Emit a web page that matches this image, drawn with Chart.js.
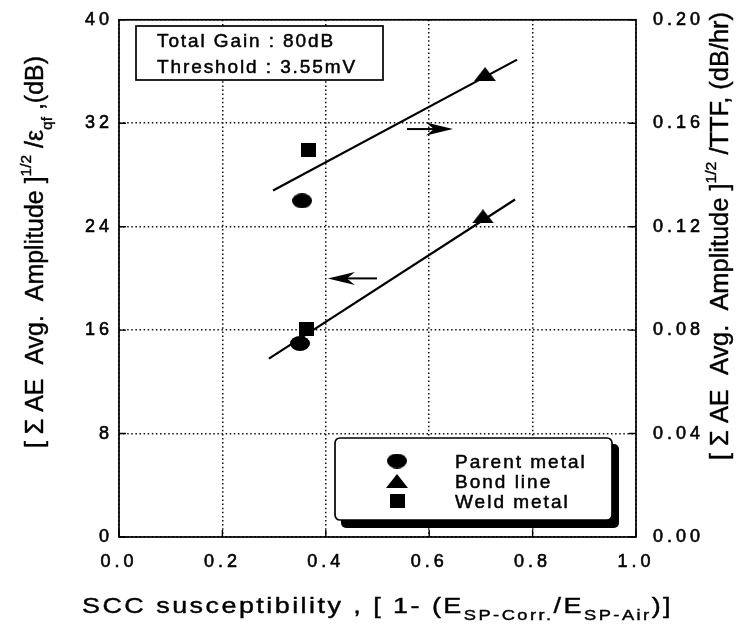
<!DOCTYPE html>
<html>
<head>
<meta charset="utf-8">
<script src="https://cdn.jsdelivr.net/npm/chart.js@4.4.1/dist/chart.umd.min.js"></script>
<style>
  html, body { margin: 0; padding: 0; background: #fff; }
  #wrap { width: 749px; height: 633px; }
</style>
</head>
<body>
<div id="wrap"><canvas id="chart" width="749" height="633"></canvas></div>
<script>
// --- values ---
const seriesNames = ['Parent metal', 'Bond line', 'Weld metal'];
const markerKinds = ['circle', 'triangle', 'square'];

// left axis, (dB)
const leftX = [0.350, 0.704, 0.362];
const leftY = [14.97, 24.8, 16.05];
// right axis, (dB/hr)
const rightX = [0.354, 0.708, 0.366];
const rightY = [0.130, 0.179, 0.1497];

// fitted lines
const leftFitX = [0.290, 0.766];
const leftFitY = [13.8, 26.1];
const rightFitX = [0.298, 0.770];
const rightFitY = [0.134, 0.1846];

// arrows pointing at the axis each line belongs to (tail -> tip, left axis units)
const arrowTailX = [0.557, 0.499];
const arrowTipX = [0.646, 0.404];
const arrowY = [31.55, 20.0];

const xTickLabels = ['0.0', '0.2', '0.4', '0.6', '0.8', '1.0'];
const leftTickLabels = ['0', '8', '16', '24', '32', '40'];
const rightTickLabels = ['0.00', '0.04', '0.08', '0.12', '0.16', '0.20'];

const infoLines = ['Total Gain : 80dB', 'Threshold : 3.55mV'];

const leftTitle = [{ t: '[ Σ AE  Avg.  Amplitude ]' }, { t: '1/2', s: 'sup' }, { t: ' /ε' }, { t: 'qf', s: 'sub' }, { t: ' ,(dB)' }];
const rightTitle = [{ t: '[ Σ AE  Avg.  Amplitude ]' }, { t: '1/2', s: 'sup' }, { t: ' /TTF, (dB/hr)' }];
const xTitle = [{ t: 'SCC susceptibility , [ 1- (E' }, { t: 'SP-Corr.', s: 'sub' }, { t: '/E' }, { t: 'SP-Air', s: 'sub' }, { t: ')]' }];

const FONT = '"Liberation Sans", Arial, Helvetica, sans-serif';

// --- marker images (the scanned marks are a bit squat) ---
function makeMarker(kind) {
    const c = document.createElement('canvas');
    const w = kind === 'triangle' ? 22 : (kind === 'circle' ? 20 : 15);
    const h = kind === 'circle' ? 15 : 14;
    c.width = w; c.height = h;
    const g = c.getContext('2d');
    g.fillStyle = '#000';
    g.beginPath();
    if (kind === 'circle') g.ellipse(w / 2, h / 2, w / 2, h / 2, 0, 0, Math.PI * 2);
    else if (kind === 'square') g.rect(0, 0, w, h);
    else { g.moveTo(w / 2, 0); g.lineTo(w, h); g.lineTo(0, h); g.closePath(); }
    g.fill();
    return c;
}
const markers = markerKinds.map(makeMarker);

function richWidth(ctx, parts, size, ls, ratio) {
    let w = 0;
    parts.forEach(p => {
        const fs = p.s ? size * ratio : size;
        ctx.font = fs + 'px ' + FONT;
        ctx.letterSpacing = ls + 'px';
        w += ctx.measureText(p.t).width;
    });
    return w;
}

// text with a thin stroke, the scan makes every glyph heavier
function inkText(ctx, s, x, y) {
    ctx.fillText(s, x, y);
    ctx.strokeText(s, x, y);
}

function drawRich(ctx, parts, x, y, size, ls, ratio) {
    parts.forEach(p => {
        const fs = p.s ? size * ratio : size;
        ctx.font = fs + 'px ' + FONT;
        ctx.letterSpacing = ls + 'px';
        let dy = 0;
        if (p.s === 'sup') dy = -size * 0.48;
        if (p.s === 'sub') dy = size * 0.34;
        inkText(ctx, p.t, x, y + dy);
        x += ctx.measureText(p.t).width;
    });
}

// rotated, squeezed to a target length
function drawVerticalTitle(ctx, parts, cx, cy, length, size) {
    ctx.save();
    ctx.translate(cx, cy);
    ctx.rotate(-Math.PI / 2);
    const w = richWidth(ctx, parts, size, 0, 0.62);
    ctx.scale(length / w, 1);
    ctx.textAlign = 'left';
    ctx.textBaseline = 'alphabetic';
    drawRich(ctx, parts, -w / 2, size * 0.36, size, 0, 0.62);
    ctx.restore();
}

function drawArrow(ctx, x1, y1, x2, y2) {
    const len = Math.hypot(x2 - x1, y2 - y1);
    const dx = (x2 - x1) / len, dy = (y2 - y1) / len;
    const nx = -dy, ny = dx;
    const headLen = 27, half = 6.5, notch = 19;
    ctx.beginPath();
    ctx.moveTo(x1, y1);
    ctx.lineTo(x2 - dx * notch, y2 - dy * notch);
    ctx.lineWidth = 2;
    ctx.stroke();
    ctx.beginPath();
    ctx.moveTo(x2, y2);
    ctx.lineTo(x2 - dx * headLen + nx * half, y2 - dy * headLen + ny * half);
    ctx.lineTo(x2 - dx * notch, y2 - dy * notch);
    ctx.lineTo(x2 - dx * headLen - nx * half, y2 - dy * headLen - ny * half);
    ctx.closePath();
    ctx.fill();
}

const spacingPlugin = {
    id: 'spacing',
    beforeDraw(chart) { chart.ctx.letterSpacing = '4px'; },
    beforeDatasetsDraw(chart) { chart.ctx.letterSpacing = '0px'; }
};

const decorPlugin = {
    id: 'decor',
    afterDatasetsDraw(chart) {
        const ctx = chart.ctx;
        const { left, right, top, bottom } = chart.chartArea;
        const xs = chart.scales.x, ys = chart.scales.y, y1s = chart.scales.y1;
        ctx.save();
        ctx.letterSpacing = '0px';
        ctx.strokeStyle = '#000';
        ctx.fillStyle = '#000';

        // frame
        ctx.lineWidth = 1.7;
        ctx.strokeRect(left, top, right - left, bottom - top);

        // inward tick marks
        ctx.lineWidth = 1.4;
        ctx.beginPath();
        ys.ticks.forEach(t => { const p = ys.getPixelForValue(t.value); ctx.moveTo(left, p); ctx.lineTo(left + 7, p); });
        y1s.ticks.forEach(t => { const p = y1s.getPixelForValue(t.value); ctx.moveTo(right, p); ctx.lineTo(right - 7, p); });
        xs.ticks.forEach(t => { const p = xs.getPixelForValue(t.value); ctx.moveTo(p, bottom); ctx.lineTo(p, bottom - 7); });
        ctx.stroke();

        // arrows
        ctx.lineCap = 'butt';
        arrowY.forEach((v, i) => {
            const py = ys.getPixelForValue(v);
            drawArrow(ctx, xs.getPixelForValue(arrowTailX[i]), py, xs.getPixelForValue(arrowTipX[i]), py);
        });

        // info box
        ctx.fillStyle = '#fff';
        ctx.fillRect(136, 26, 247, 54);
        ctx.lineWidth = 1.7;
        ctx.strokeRect(136, 26, 247, 54);
        ctx.fillStyle = '#000';
        ctx.lineWidth = 0.5;
        ctx.font = '19px ' + FONT;
        ctx.letterSpacing = '1.9px';
        ctx.textAlign = 'left';
        ctx.textBaseline = 'alphabetic';
        infoLines.forEach((s, i) => inkText(ctx, s, 157, 47 + i * 26));

        // legend box with heavy shadow
        ctx.letterSpacing = '0px';
        ctx.beginPath();
        ctx.roundRect(341, 444, 278, 84, 5);
        ctx.fill();
        ctx.fillStyle = '#fff';
        ctx.beginPath();
        ctx.roundRect(335, 438, 277, 82, 5);
        ctx.fill();
        ctx.lineWidth = 1.7;
        ctx.stroke();
        ctx.fillStyle = '#000';
        ctx.lineWidth = 0.5;
        ctx.font = '19px ' + FONT;
        ctx.letterSpacing = '2px';
        seriesNames.forEach((name, i) => {
            const yy = 461 + i * 20;
            const m = markers[i];
            ctx.drawImage(m, 397 - m.width / 2, yy - m.height / 2);
            inkText(ctx, name, 455, yy + 7);
        });

        // axis titles
        ctx.lineWidth = 0.4;
        drawVerticalTitle(ctx, leftTitle, 34, 252, 392, 25);
        drawVerticalTitle(ctx, rightTitle, 719, 236, 448, 25);

        ctx.save();
        const w = richWidth(ctx, xTitle, 22, 2, 0.68);
        ctx.translate(82, 613);
        ctx.scale(591 / w, 1);
        drawRich(ctx, xTitle, 0, 0, 22, 2, 0.68);
        ctx.restore();

        ctx.restore();
    }
};

const datasets = [];
seriesNames.forEach((name, i) => {
    datasets.push({
        label: name,
        data: [{ x: leftX[i], y: leftY[i] }],
        yAxisID: 'y',
        pointStyle: markers[i],
        backgroundColor: '#000',
        borderColor: '#000'
    });
    datasets.push({
        label: name + ' (rate)',
        data: [{ x: rightX[i], y: rightY[i] }],
        yAxisID: 'y1',
        pointStyle: markers[i],
        backgroundColor: '#000',
        borderColor: '#000'
    });
});
datasets.push({
    label: 'fit left',
    data: leftFitX.map((x, i) => ({ x: x, y: leftFitY[i] })),
    yAxisID: 'y',
    showLine: true,
    pointRadius: 0,
    borderColor: '#000',
    borderWidth: 2.2
});
datasets.push({
    label: 'fit right',
    data: rightFitX.map((x, i) => ({ x: x, y: rightFitY[i] })),
    yAxisID: 'y1',
    showLine: true,
    pointRadius: 0,
    borderColor: '#000',
    borderWidth: 2.2
});

const dotted = { display: false, dash: [1.5, 2.6] };
const gridStyle = { color: '#111', lineWidth: 1.5, drawTicks: false };
const tickFont = { family: FONT, size: 18 };
const tickInk = { color: '#000', font: tickFont, textStrokeColor: '#000', textStrokeWidth: 0.6 };

new Chart(document.getElementById('chart'), {
    type: 'scatter',
    data: { datasets: datasets },
    options: {
        responsive: false,
        animation: false,
        events: [],
        layout: { padding: { top: 16, left: 0, right: 0, bottom: 0 } },
        plugins: { legend: { display: false }, tooltip: { enabled: false } },
        scales: {
            x: {
                type: 'linear', min: 0, max: 1,
                ticks: {
                    ...tickInk, stepSize: 0.2, padding: 14, maxRotation: 0,
                    callback: (v, i) => xTickLabels[i]
                },
                grid: gridStyle,
                border: dotted,
                afterFit: s => { s.height = 96; }
            },
            y: {
                type: 'linear', position: 'left', min: 0, max: 40,
                ticks: {
                    ...tickInk, stepSize: 8, padding: 6,
                    callback: (v, i) => leftTickLabels[i]
                },
                grid: gridStyle,
                border: dotted,
                afterFit: s => { s.width = 119; }
            },
            y1: {
                type: 'linear', position: 'right', min: 0, max: 0.2,
                ticks: {
                    ...tickInk, stepSize: 0.04, padding: 9,
                    callback: (v, i) => rightTickLabels[i]
                },
                grid: { display: false },
                border: { display: false },
                afterFit: s => { s.width = 113; }
            }
        }
    },
    plugins: [spacingPlugin, decorPlugin]
});
</script>
</body>
</html>
